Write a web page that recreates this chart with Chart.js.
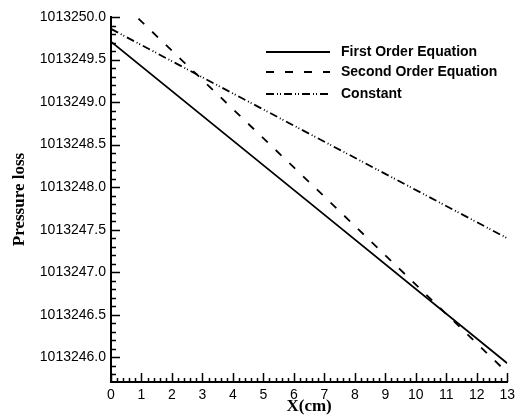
<!DOCTYPE html>
<html>
<head>
<meta charset="utf-8">
<script src="https://cdn.jsdelivr.net/npm/chart.js@4"></script>
<style>
  body { margin: 0; background: #fff; }
  #box { width: 520px; height: 416px; }
</style>
</head>
<body>
<div id="box"><canvas id="myChart" width="520" height="416"></canvas></div>
<script>
// x positions (cm) and pressure loss
const xFirst = [0, 6.4, 13];
const firstOrder = [1013249.71, 1013247.85, 1013245.93];
const xSecond = [0, 2.74, 7.23, 13];
const secondOrder = [1013250.29, 1013249.35, 1013247.81, 1013245.82];
const xConst = [0, 2.74, 13];
const constant = [1013249.86, 1013249.34, 1013247.40];

const names = ['First Order Equation', 'Second Order Equation', 'Constant'];
const dashes = [[], [8, 11], [8, 3, 1, 2, 1, 3]];

const yMin = 1013245.71, yMax = 1013250.0;

function pts(xs, ys) {
    return xs.map((x, i) => ({ x: x, y: ys[i] }));
}

// ticks pointing inward, plus legend and axis titles
const decor = {
    id: 'decor',
    afterDraw(chart) {
        const c = chart.ctx;
        const xs = chart.scales.x, ys = chart.scales.y;
        const left = chart.chartArea.left, bottom = chart.chartArea.bottom;
        c.save();
        c.strokeStyle = '#000';
        c.lineWidth = 1.5;
        c.beginPath();
        for (let i = 0; i <= 65; i++) {
            const v = i / 5;
            const px = Math.round(xs.getPixelForValue(v)) + 0.5;
            const len = i % 5 == 0 ? 9 : 4;
            c.moveTo(px, bottom);
            c.lineTo(px, bottom - len);
        }
        for (let i = 0; i <= 42; i++) {
            const v = yMax - i / 10;
            const py = Math.round(ys.getPixelForValue(v)) + 0.5;
            const len = i % 5 == 0 ? 9 : 5;
            c.moveTo(left, py);
            c.lineTo(left + len, py);
        }
        c.stroke();

        // legend
        c.font = 'bold 14px "Liberation Sans", Arial, sans-serif';
        c.textBaseline = 'middle';
        c.fillStyle = '#000';
        const rows = [52, 72, 94];
        names.forEach((n, i) => {
            c.beginPath();
            c.lineWidth = 1.8;
            c.setLineDash(dashes[i]);
            c.moveTo(266, rows[i]);
            c.lineTo(330, rows[i]);
            c.stroke();
            c.setLineDash([]);
            c.fillText(n, 341, rows[i]);
        });

        // axis titles
        c.font = 'bold 17px "Liberation Serif", "Times New Roman", serif';
        c.textAlign = 'center';
        c.fillText('X(cm)', (chart.chartArea.left + chart.chartArea.right) / 2, 407);
        c.translate(20, (chart.chartArea.top + bottom) / 2);
        c.rotate(-Math.PI / 2);
        c.fillText('Pressure loss', 0, 0);
        c.restore();
    }
};

const ctx = document.getElementById('myChart');
new Chart(ctx, {
    type: 'line',
    data: {
        datasets: [
            { label: names[0], data: pts(xFirst, firstOrder), borderDash: dashes[0] },
            { label: names[1], data: pts(xSecond, secondOrder), borderDash: dashes[1] },
            { label: names[2], data: pts(xConst, constant), borderDash: dashes[2] }
        ].map(d => Object.assign(d, {
            borderColor: '#000', borderWidth: 1.8, pointRadius: 0, fill: false, tension: 0
        }))
    },
    options: {
        responsive: false,
        animation: false,
        layout: { padding: { left: 0, top: 17, right: 10, bottom: 0 } },
        plugins: { legend: { display: false }, tooltip: { enabled: false } },
        scales: {
            x: {
                type: 'linear', min: 0, max: 13,
                grid: { display: false, drawTicks: false },
                border: { display: true, color: '#000', width: 2 },
                ticks: {
                    stepSize: 1, padding: 5, maxRotation: 0, color: '#000',
                    font: { family: '"Liberation Sans", Arial, sans-serif', size: 14 }
                },
                afterFit: s => { s.height = 34; }
            },
            y: {
                min: yMin, max: yMax,
                grid: { display: false, drawTicks: false },
                border: { display: true, color: '#000', width: 2 },
                ticks: {
                    stepSize: 0.5, includeBounds: false, padding: 5, color: '#000',
                    font: { family: '"Liberation Sans", Arial, sans-serif', size: 14 },
                    callback: v => v.toFixed(1)
                },
                afterFit: s => { s.width = 111; }
            }
        }
    },
    plugins: [decor]
});
</script>
</body>
</html>
